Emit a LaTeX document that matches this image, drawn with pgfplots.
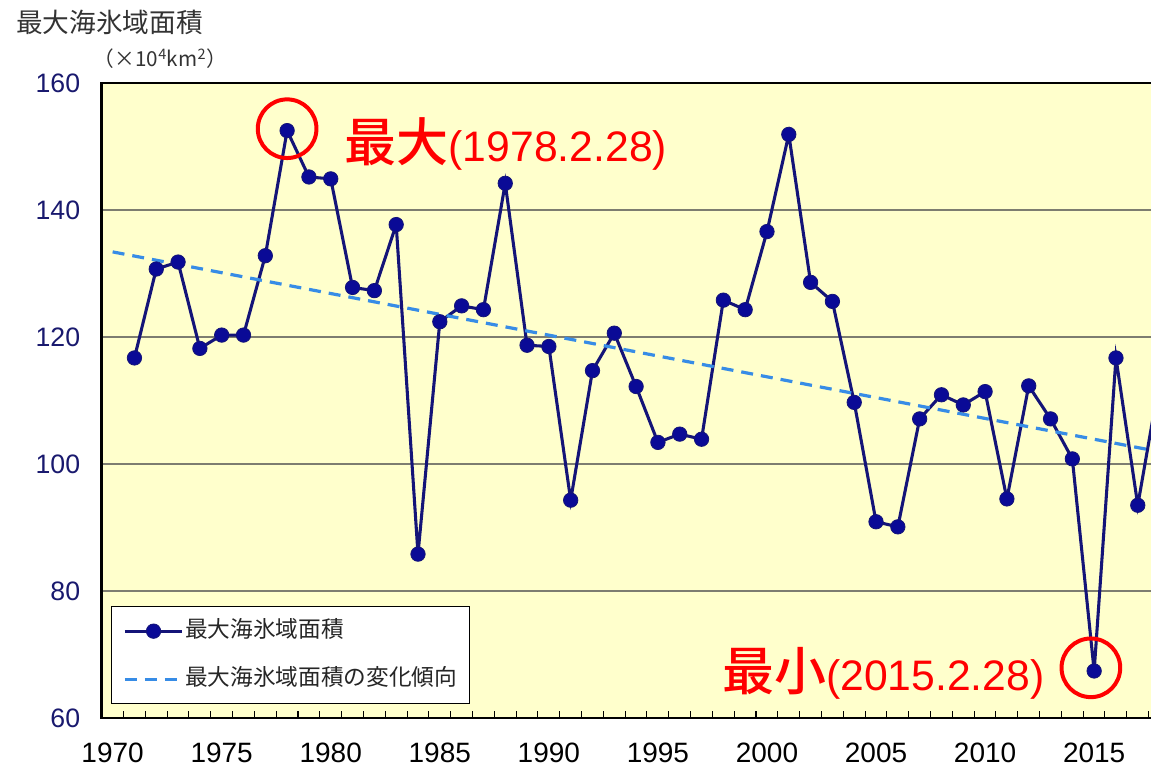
\documentclass[border=0pt]{standalone}
\usepackage{pgfplots}
\pgfplotsset{compat=1.18}
\usepackage{fontspec}
\setmainfont{Liberation Sans}
\newfontfamily\jp{Noto Sans CJK JP}
\newfontfamily\jpm{Noto Sans CJK JP Medium}
\definecolor{bgyellow}{RGB}{255,255,204}
\definecolor{navyline}{RGB}{20,20,120}
\definecolor{navyfill}{RGB}{10,10,150}
\definecolor{trendblue}{RGB}{55,140,230}
\definecolor{ticknavy}{RGB}{25,25,110}
\definecolor{gridgray}{RGB}{125,125,112}
\begin{document}
\begin{tikzpicture}[x=1pt,y=1pt]
\useasboundingbox (-76.3,-37.5) rectangle (787,538.5);
\begin{axis}[
  at={(0,0)}, anchor=south west,
  scale only axis, width=790pt, height=476.25pt,
  xmin=1969.5, xmax=2017.79, ymin=60, ymax=160,
  axis background/.style={fill=bgyellow},
  axis line style={line width=2pt, black},
  /pgf/number format/assume math mode=true,
  ytick={60,80,100,120,140,160},
  ymajorgrids, major grid style={gridgray, line width=1.3pt},
  ytick style={draw=none},
  yticklabel style={font=\fontsize{20}{20}\selectfont, text=ticknavy, inner sep=0pt, xshift=-16pt},
  xtick={1970,1975,1980,1985,1990,1995,2000,2005,2010,2015},
  xticklabels={1970,1975,1980,1985,1990,1995,2000,2005,2010,2015},
  major x tick style={draw=none},
  minor xtick={1970.5,1971.5,...,2017.5},
  minor tick length=5pt,
  minor x tick style={black, line width=0.8pt},
  tick align=inside, xtick pos=bottom, ytick pos=left,
  xticklabel style={font=\fontsize{21}{21}\selectfont, text=black, inner sep=0pt, anchor=north, yshift=-18.5pt},
  legend style={at={(0.0085,0.1765)}, anchor=north west, draw=black, line width=0.9pt, fill=white,
    font=\jp\fontsize{17}{17}\selectfont, text=black!85,
    inner xsep=9pt, inner ysep=11pt, row sep=21pt, column sep=1pt,
    nodes={inner sep=0pt, text height=12pt, text depth=3pt}},
  legend cell align=left,
  legend image code/.code={\draw[mark repeat=2,mark phase=2,#1] plot coordinates {(0pt,0pt)(21.5pt,0pt)(43pt,0pt)};},
]
\addplot[navyline, line width=2.3pt, mark=*, mark size=5.4pt, mark options={fill=navyfill, draw=navyline, line width=0.6pt, solid}] coordinates {
(1971,116.7)(1972,130.7)(1973,131.8)(1974,118.2)(1975,120.3)(1976,120.3)(1977,132.8)
(1978,152.5)(1979,145.2)(1980,144.9)(1981,127.8)(1982,127.3)(1983,137.7)(1984,85.8)
(1985,122.4)(1986,124.9)(1987,124.3)(1988,144.2)(1989,118.7)(1990,118.5)(1991,94.3)
(1992,114.7)(1993,120.6)(1994,112.2)(1995,103.4)(1996,104.7)(1997,103.9)(1998,125.8)
(1999,124.3)(2000,136.6)(2001,151.9)(2002,128.6)(2003,125.6)(2004,109.7)(2005,90.9)
(2006,90.1)(2007,107.1)(2008,110.9)(2009,109.3)(2010,111.4)(2011,94.5)(2012,112.3)
(2013,107.1)(2014,100.8)(2015,67.4)(2016,116.7)(2017,93.5)(2018,113.2)
};
\addlegendentry{最大海氷域面積}
\addplot[trendblue, line width=2.4pt, dash pattern=on 9pt off 6pt] coordinates {(1970,133.4)(2018.5,101.6)};
\addlegendentry{最大海氷域面積の変化傾向}
\addplot[only marks, mark=o, mark size=22pt, mark options={draw=red, line width=3pt}, forget plot] coordinates {(1978,152.8)(2014.85,67.9)};
\node[anchor=base west, text=red, inner sep=0pt] at (axis cs:1980.63,147.6)
  {{\jpm\fontsize{39}{39}\selectfont 最大}{\fontsize{32}{32}\selectfont (1978.2.28)}};
\node[anchor=base west, text=red, inner sep=0pt] at (axis cs:1997.94,64.4)
  {{\jpm\fontsize{39}{39}\selectfont 最小}{\fontsize{32}{32}\selectfont (2015.2.28)}};
\end{axis}
\node[anchor=west, inner sep=0pt, text=black!80] at (-64.3,522) {\jp\fontsize{20}{20}\selectfont 最大海氷域面積};
\node[anchor=west, inner sep=0pt, text=black!80] at (-6,494.25) {\jp\fontsize{15.5}{15.5}\selectfont （×10\textsuperscript{4}km\textsuperscript{2}）};
\end{tikzpicture}
\end{document}
